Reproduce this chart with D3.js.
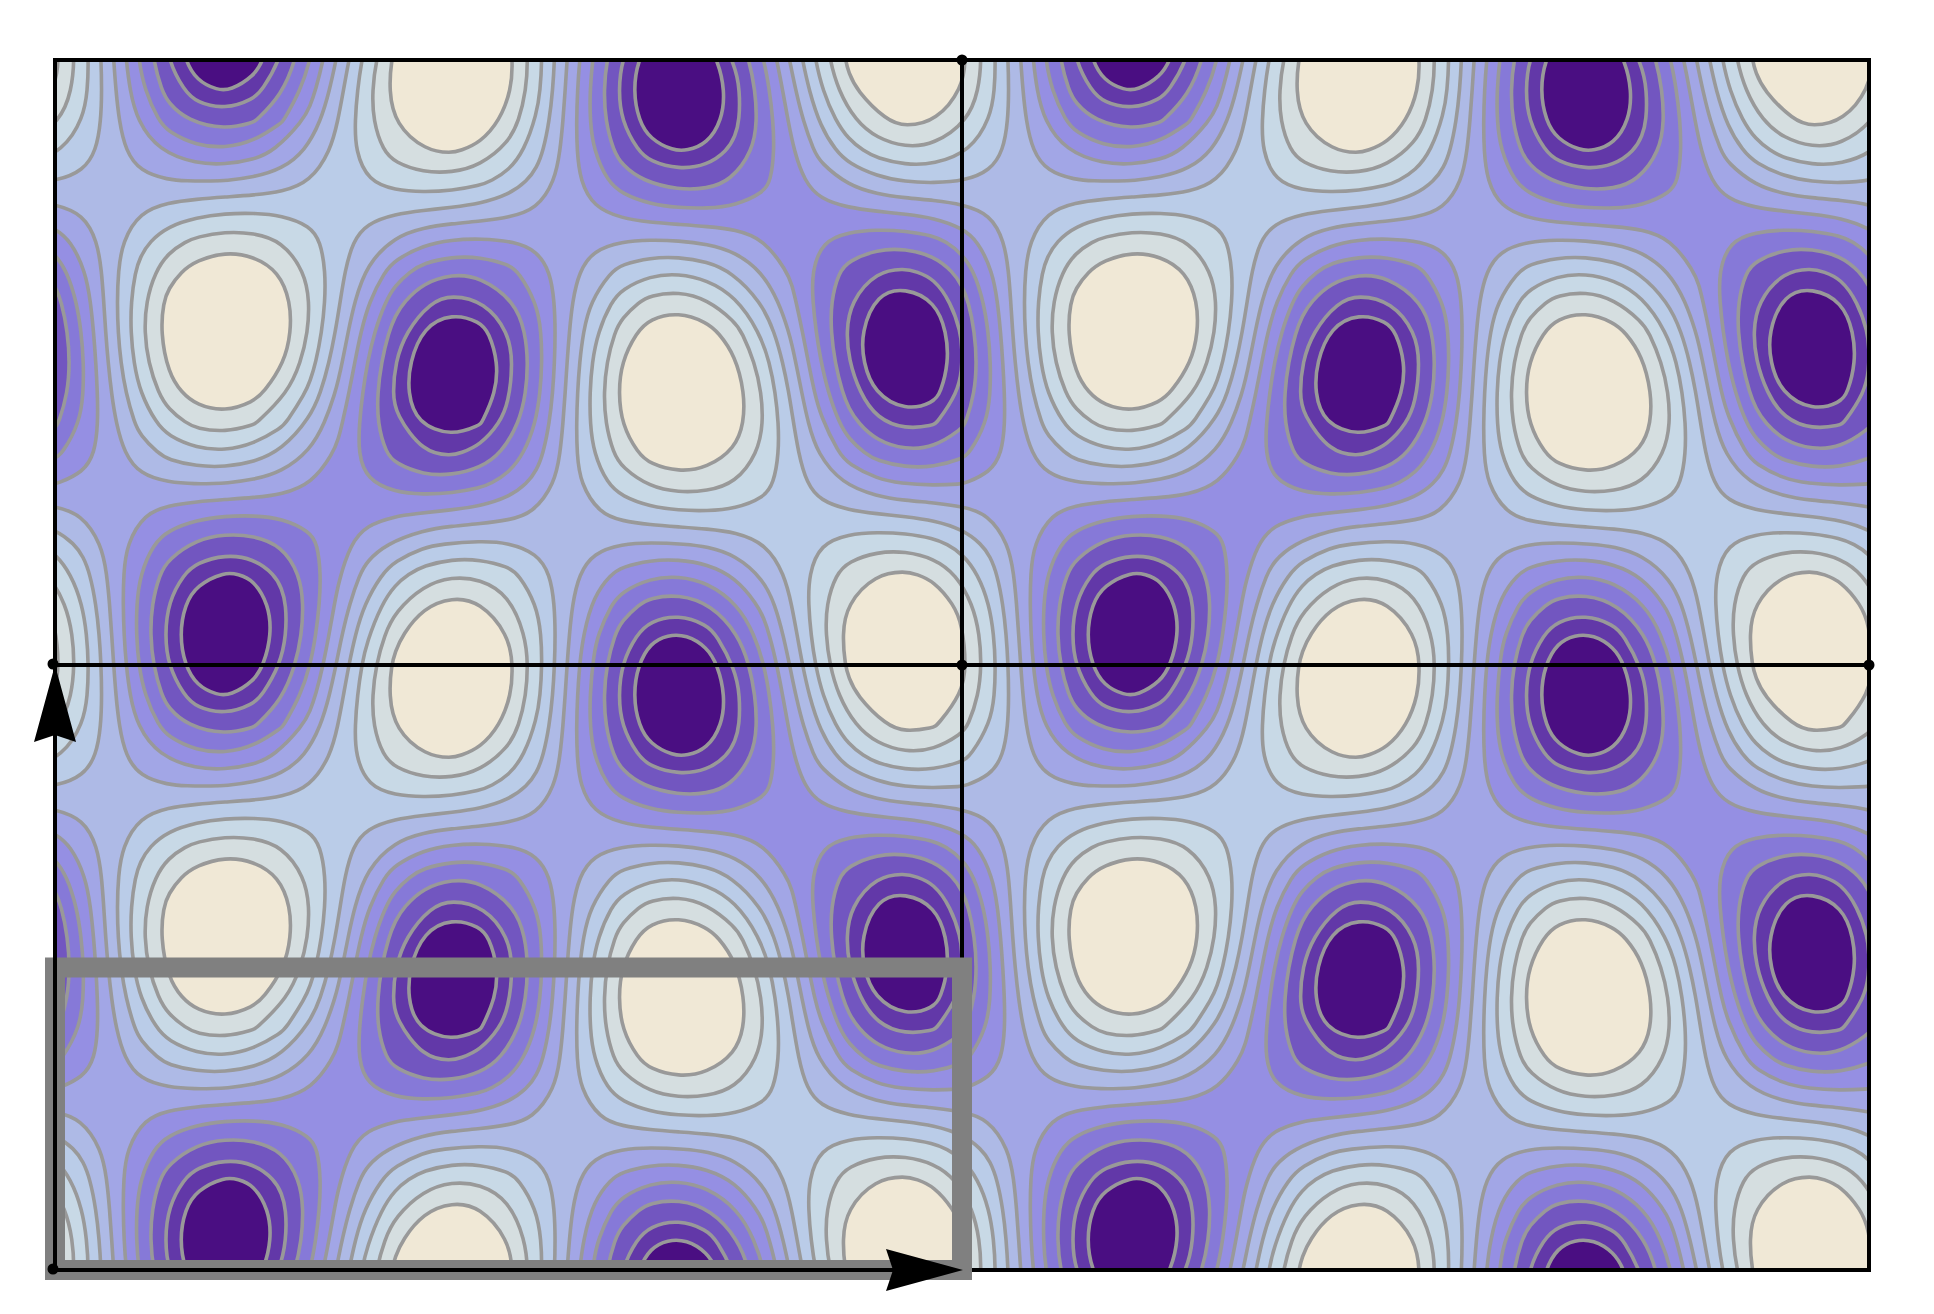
<!DOCTYPE html>
<html>
<head>
<meta charset="utf-8">
<style>
  html, body { margin: 0; background: #fff; }
  svg { display: block; }
</style>
<script src="https://cdn.jsdelivr.net/npm/d3@7"></script>
</head>
<body>
<div id="chart"></div>
<script>
// one period of the field: 32 columns of 20 values.
// the value is the band number, 0 = cream ... 10 = darkest purple
var tileColumns = [
  [0.71,1.02,1.72,2.75,3.98,5.31,6.57,7.64,8.44,8.93,9.06,8.80,8.18,7.22,6.02,4.67,3.36,2.21,1.34,0.82],
  [2.59,2.70,3.03,3.56,4.23,4.94,5.57,6.13,6.55,6.85,7.02,7.01,6.81,6.39,5.77,5.03,4.29,3.60,3.07,2.72],
  [4.84,4.70,4.59,4.53,4.50,4.47,4.42,4.38,4.40,4.50,4.71,4.98,5.24,5.42,5.50,5.48,5.40,5.29,5.15,5.00],
  [7.11,6.72,6.16,5.49,4.77,4.02,3.31,2.72,2.34,2.27,2.51,3.01,3.70,4.48,5.23,5.93,6.53,6.99,7.26,7.30],
  [9.02,8.40,7.45,6.26,4.95,3.61,2.38,1.37,0.72,0.51,0.76,1.44,2.47,3.72,5.05,6.36,7.53,8.46,9.05,9.24],
  [10.28,9.50,8.28,6.74,5.03,3.32,1.77,0.54,-0.26,-0.54,-0.28,0.50,1.72,3.26,4.97,6.68,8.23,9.46,10.26,10.54],
  [10.70,9.84,8.51,6.84,4.98,3.13,1.46,0.14,-0.71,-1.00,-0.70,0.16,1.49,3.16,5.02,6.87,8.54,9.86,10.71,11.00],
  [10.22,9.37,8.10,6.52,4.79,3.09,1.57,0.38,-0.34,-0.55,-0.22,0.63,1.90,3.48,5.21,6.91,8.43,9.62,10.34,10.55],
  [8.92,8.16,7.09,5.82,4.47,3.16,1.98,1.07,0.53,0.45,0.84,1.66,2.80,4.14,5.53,6.83,7.95,8.78,9.25,9.30],
  [7.02,6.40,5.64,4.83,4.02,3.30,2.68,2.22,2.03,2.14,2.57,3.27,4.16,5.09,5.97,6.68,7.22,7.55,7.62,7.44],
  [4.81,4.36,3.97,3.68,3.52,3.50,3.55,3.66,3.88,4.24,4.70,5.23,5.77,6.21,6.46,6.49,6.36,6.10,5.73,5.28],
  [2.61,2.33,2.31,2.54,3.02,3.70,4.44,5.18,5.86,6.47,6.96,7.30,7.44,7.34,6.95,6.30,5.50,4.64,3.83,3.13],
  [0.76,0.62,0.91,1.60,2.62,3.88,5.22,6.49,7.61,8.45,8.99,9.15,8.93,8.31,7.36,6.12,4.76,3.42,2.23,1.32],
  [-0.49,-0.51,0.00,1.01,2.40,4.05,5.80,7.47,8.88,9.93,10.49,10.51,10.00,8.99,7.60,5.95,4.20,2.53,1.12,0.07],
  [-0.95,-0.90,-0.26,0.88,2.43,4.23,6.11,7.88,9.36,10.42,10.95,10.90,10.26,9.12,7.57,5.77,3.89,2.12,0.64,-0.42],
  [-0.53,-0.44,0.19,1.29,2.75,4.43,6.17,7.79,9.13,10.08,10.53,10.44,9.81,8.71,7.25,5.57,3.83,2.21,0.87,-0.08],
  [0.70,0.82,1.36,2.24,3.40,4.72,6.06,7.30,8.32,9.00,9.30,9.18,8.64,7.76,6.60,5.28,3.94,2.70,1.68,1.00],
  [2.59,2.73,3.08,3.62,4.31,5.05,5.79,6.46,6.98,7.31,7.41,7.27,6.92,6.38,5.69,4.95,4.21,3.54,3.02,2.69],
  [4.85,5.00,5.16,5.30,5.40,5.48,5.50,5.48,5.40,5.30,5.15,5.00,4.84,4.70,4.60,4.52,4.50,4.52,4.60,4.70],
  [7.12,7.30,7.26,6.99,6.53,5.91,5.21,4.49,3.82,3.26,2.88,2.70,2.74,3.01,3.47,4.09,4.79,5.51,6.18,6.74],
  [9.03,9.23,9.03,8.43,7.50,6.31,5.00,3.69,2.51,1.57,0.97,0.77,0.97,1.57,2.50,3.69,5.00,6.31,7.49,8.43],
  [10.30,10.54,10.25,9.44,8.19,6.63,4.91,3.20,1.67,0.46,-0.30,-0.54,-0.25,0.56,1.81,3.37,5.09,6.80,8.33,9.54],
  [10.72,11.00,10.69,9.82,8.49,6.81,4.95,3.10,1.43,0.12,-0.72,-1.00,-0.69,0.18,1.51,3.19,5.05,6.90,8.57,9.88],
  [10.24,10.55,10.33,9.58,8.39,6.86,5.15,3.42,1.85,0.59,-0.24,-0.55,-0.33,0.42,1.61,3.14,4.85,6.58,8.15,9.41],
  [8.94,9.30,9.24,8.77,7.92,6.79,5.48,4.09,2.75,1.62,0.82,0.45,0.55,1.09,2.01,3.20,4.52,5.87,7.14,8.20],
  [7.04,7.45,7.63,7.54,7.21,6.66,5.94,5.06,4.12,3.23,2.54,2.13,2.02,2.24,2.70,3.33,4.05,4.86,5.67,6.43],
  [4.82,5.29,5.74,6.11,6.37,6.49,6.45,6.19,5.75,5.22,4.69,4.23,3.88,3.66,3.54,3.50,3.53,3.69,3.98,4.37],
  [2.62,3.15,3.85,4.67,5.52,6.32,6.97,7.35,7.45,7.30,6.95,6.45,5.84,5.16,4.42,3.68,3.00,2.53,2.29,2.33],
  [0.77,1.34,2.26,3.45,4.79,6.16,7.38,8.34,8.93,9.15,8.98,8.43,7.58,6.46,5.19,3.84,2.59,1.57,0.90,0.62],
  [-0.48,0.10,1.16,2.59,4.26,6.00,7.64,9.03,10.02,10.52,10.48,9.90,8.84,7.41,5.74,4.00,2.36,0.97,-0.02,-0.52],
  [-0.94,-0.39,0.68,2.18,3.95,5.83,7.63,9.16,10.30,10.91,10.94,10.39,9.32,7.82,6.05,4.17,2.37,0.84,-0.30,-0.91],
  [-0.52,-0.06,0.90,2.26,3.89,5.63,7.31,8.76,9.84,10.44,10.52,10.06,9.10,7.74,6.11,4.37,2.69,1.24,0.16,-0.44]
];

var levels = [1, 2, 3, 4, 5, 6, 7, 8, 9, 9.75];
var bandColors = ["#f0e8d6", "#d5dee0", "#c8d9e6", "#bacce8", "#aebae6", "#a2a6e6",
                  "#958fe3", "#8679d8", "#7256c0", "#6238a8", "#4a0e82"];

// lattice corners, in units of one period
var latticeLines = [[0, 0, 2, 0], [0, 2, 2, 2], [0, 0, 0, 2], [2, 0, 2, 2], [1, 0, 1, 2], [0, 1, 2, 1]];
var latticeDots = [[1, 0], [0, 1], [1, 1], [2, 1], [0, 2]];
var highlightCell = [0, 1.5, 1, 2]; // grey box, x0 y0 x1 y1 in periods

var width = 1934, height = 1314;
var nx = tileColumns.length, ny = tileColumns[0].length;

// pixel scales, one for periods and one for samples of the tile
var xScale = d3.scaleLinear().domain([0, 2]).range([55, 1869]);
var yScale = d3.scaleLinear().domain([0, 2]).range([60, 1270]);
var xTile = d3.scaleLinear().domain([0, nx]).range([xScale(0), xScale(1)]);
var yTile = d3.scaleLinear().domain([0, ny]).range([yScale(0), yScale(1)]);

// repeat the tile over the 2x2 frame, with a margin so contours don't close at the border
var pad = 3;
var gridW = nx * 2 + 1 + pad * 2, gridH = ny * 2 + 1 + pad * 2;
var grid = new Array(gridW * gridH);
for (var r = 0; r < gridH; r++) {
  for (var c = 0; c < gridW; c++) {
    var ci = (c - pad + nx) % nx, ri = (r - pad + ny) % ny;
    grid[r * gridW + c] = tileColumns[ci][ri];
  }
}

var contours = d3.contours().size([gridW, gridH]).thresholds(levels)(grid);

var ringLine = d3.line()
  .x(function(d) { return xTile(d[0] - pad - 0.5); })
  .y(function(d) { return yTile(d[1] - pad - 0.5); })
  .curve(d3.curveBasisClosed);

// contour points that nearly coincide make kinks in the curve, drop them
function thinRing(ring) {
  var kept = [];
  ring.slice(0, -1).forEach(function(p) {
    var last = kept[kept.length - 1];
    if (!last || Math.hypot(p[0] - last[0], p[1] - last[1]) > 0.4) kept.push(p);
  });
  return kept;
}

function contourPath(geom) {
  var out = "";
  geom.coordinates.forEach(function(poly) {
    poly.forEach(function(ring) {
      out += ringLine(thinRing(ring));
    });
  });
  return out;
}

var svg = d3.select("#chart").append("svg")
  .attr("width", width)
  .attr("height", height);

svg.append("rect").attr("width", width).attr("height", height).attr("fill", "#fff");

svg.append("clipPath").attr("id", "frame")
  .append("rect")
  .attr("x", xScale(0)).attr("y", yScale(0))
  .attr("width", xScale(2) - xScale(0)).attr("height", yScale(2) - yScale(0));

var plot = svg.append("g").attr("clip-path", "url(#frame)");

plot.append("rect")
  .attr("x", xScale(0)).attr("y", yScale(0))
  .attr("width", xScale(2) - xScale(0)).attr("height", yScale(2) - yScale(0))
  .attr("fill", bandColors[0]);

plot.selectAll("path.band")
  .data(contours)
  .enter().append("path")
  .attr("class", "band")
  .attr("d", contourPath)
  .attr("fill", function(d, i) { return bandColors[i + 1]; });

plot.selectAll("path.iso")
  .data(contours)
  .enter().append("path")
  .attr("class", "iso")
  .attr("d", contourPath)
  .attr("fill", "none")
  .attr("stroke", "#999999")
  .attr("stroke-width", 3.6);

svg.selectAll("line.lattice")
  .data(latticeLines)
  .enter().append("line")
  .attr("class", "lattice")
  .attr("x1", function(d) { return xScale(d[0]); })
  .attr("y1", function(d) { return yScale(d[1]); })
  .attr("x2", function(d) { return xScale(d[2]); })
  .attr("y2", function(d) { return yScale(d[3]); })
  .attr("stroke", "#000")
  .attr("stroke-width", 4)
  .attr("stroke-linecap", "square");

svg.append("rect")
  .attr("x", xScale(highlightCell[0]))
  .attr("y", yScale(highlightCell[1]))
  .attr("width", xScale(highlightCell[2]) - xScale(highlightCell[0]))
  .attr("height", yScale(highlightCell[3]) - yScale(highlightCell[1]))
  .attr("fill", "none")
  .attr("stroke", "#808080")
  .attr("stroke-width", 20);

// basis vectors, on top of the grey box
var origin = [0, 2];
var basis = [[1, 2], [0, 1]];
svg.selectAll("line.basis")
  .data(basis)
  .enter().append("line")
  .attr("class", "basis")
  .attr("x1", xScale(origin[0]))
  .attr("y1", yScale(origin[1]))
  .attr("x2", function(d) { return xScale(d[0]) - (d[0] > origin[0] ? 60 : 0); })
  .attr("y2", function(d) { return yScale(d[1]) + (d[0] > origin[0] ? 0 : 60); })
  .attr("stroke", "#000")
  .attr("stroke-width", 4);

svg.selectAll("path.head")
  .data(basis)
  .enter().append("path")
  .attr("class", "head")
  .attr("d", "M0,0L-77,-21L-70,0L-77,21Z")
  .attr("fill", "#000")
  .attr("transform", function(d) {
    var a = d[0] > origin[0] ? 0 : -90;
    return "translate(" + (xScale(d[0]) + (d[0] > origin[0] ? 1 : 0)) + "," + yScale(d[1]) + ") rotate(" + a + ")";
  });

svg.selectAll("circle.dot")
  .data(latticeDots)
  .enter().append("circle")
  .attr("class", "dot")
  .attr("cx", function(d) { return xScale(d[0]) - (d[0] === 0 ? 2 : 0); })
  .attr("cy", function(d) { return yScale(d[1]) - (d[0] === 0 ? 1 : 0); })
  .attr("r", 5.5)
  .attr("fill", "#000");
</script>
</body>
</html>
